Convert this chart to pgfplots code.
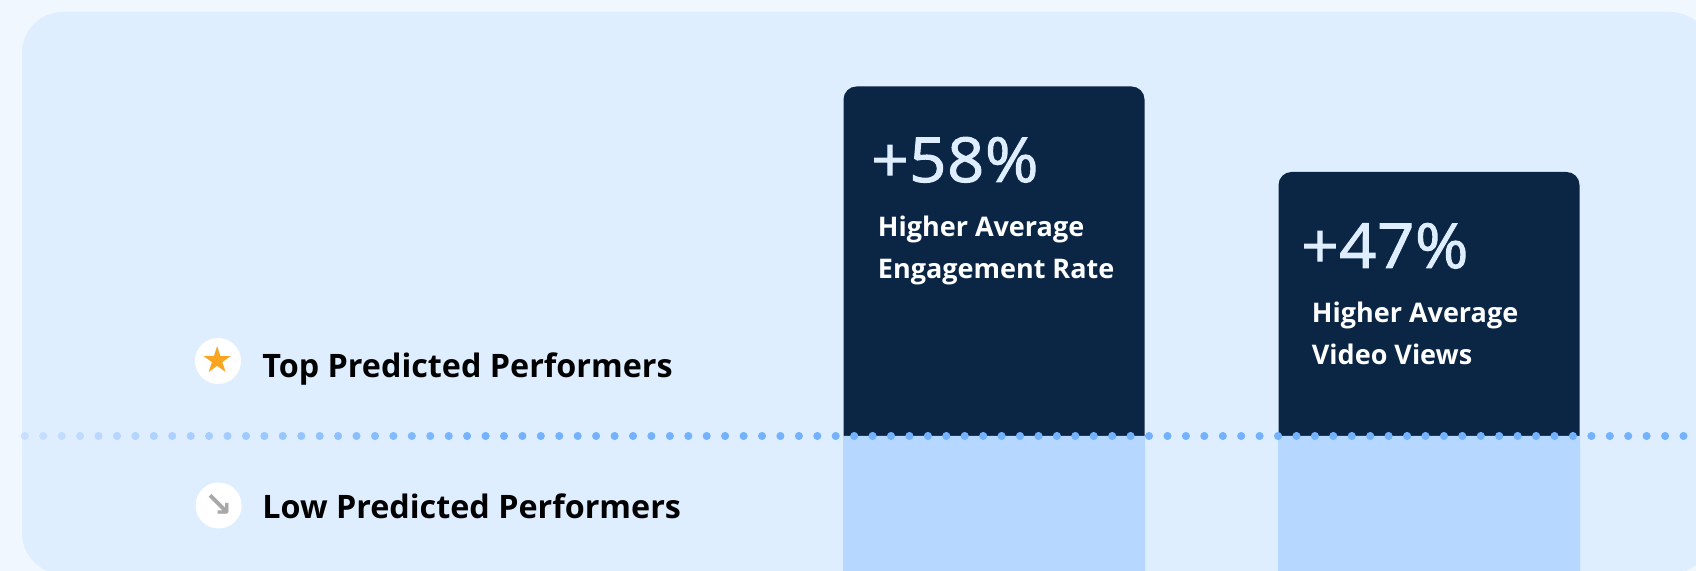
\documentclass[border=0pt]{standalone}
\usepackage{pgfplots}
\pgfplotsset{compat=1.18}
\usepackage{fontspec}
\setmainfont{Open Sans}
\newfontfamily\numf[FakeBold=1.6,FakeStretch=1.05,LetterSpace=1]{Open Sans}
\newfontfamily\sym{DejaVu Sans}
\definecolor{bg}{HTML}{F0F7FF}
\definecolor{panel}{HTML}{DEEEFF}
\definecolor{dark}{HTML}{0B2645}
\definecolor{lightbar}{HTML}{B6D7FF}
\definecolor{star}{HTML}{F9A51F}
\definecolor{arrowgray}{HTML}{A8A8A8}
\definecolor{dotlight}{HTML}{C8E0FF}
\definecolor{dotblue}{HTML}{72B2FF}
\begin{document}
\begin{tikzpicture}
\begin{axis}[
  hide axis, scale only axis, width=848pt, height=285.5pt,
  xmin=0, xmax=1696, ymin=0, ymax=571,
  axis background/.style={fill=bg},
  clip mode=global,
  colormap={dots}{color=(dotlight) color=(dotblue)},
]
\fill[panel, rounded corners=20.5pt] (axis cs:22,-3) rectangle (axis cs:1711,559);
% dark bars
\addplot[ybar, bar width=150.5pt, bar shift=0pt, fill=dark, draw=none, rounded corners=6.5pt]
  coordinates {(994,484.5) (1429,399)};
% light bars
\addplot[ybar, bar width=151pt, bar shift=0pt, fill=lightbar, draw=none]
  coordinates {(994,135) (1429,135)};
% dotted separator
\addplot[scatter, only marks, mark=*, mark size=1.8pt,
  scatter/use mapped color={draw=mapped color, fill=mapped color},
  point meta=x, point meta min=22, point meta max=460]
  table[row sep=\\, y=y] {x y\\
24.8 135\\43.2 135\\61.7 135\\80.1 135\\98.5 135\\117.0 135\\135.4 135\\153.8 135\\172.2 135\\190.7 135\\
209.1 135\\227.5 135\\246.0 135\\264.4 135\\282.8 135\\301.3 135\\319.7 135\\338.1 135\\356.5 135\\375.0 135\\
393.4 135\\411.8 135\\430.3 135\\448.7 135\\467.1 135\\485.6 135\\504.0 135\\522.4 135\\540.8 135\\559.3 135\\
577.7 135\\596.1 135\\614.6 135\\633.0 135\\651.4 135\\669.9 135\\688.3 135\\706.7 135\\725.1 135\\743.6 135\\
762.0 135\\780.4 135\\798.9 135\\817.3 135\\835.7 135\\854.2 135\\872.6 135\\891.0 135\\909.4 135\\927.9 135\\
946.3 135\\964.7 135\\983.2 135\\1001.6 135\\1020.0 135\\1038.5 135\\1056.9 135\\1075.3 135\\1093.7 135\\1112.2 135\\
1130.6 135\\1149.0 135\\1167.5 135\\1185.9 135\\1204.3 135\\1222.8 135\\1241.2 135\\1259.6 135\\1278.0 135\\1296.5 135\\
1314.9 135\\1333.3 135\\1351.8 135\\1370.2 135\\1388.6 135\\1407.1 135\\1425.5 135\\1443.9 135\\1462.3 135\\1480.8 135\\
1499.2 135\\1517.6 135\\1536.1 135\\1554.5 135\\1572.9 135\\1591.4 135\\1609.8 135\\1628.2 135\\1646.6 135\\1665.1 135\\1683.5 135\\
};
% legend-like rows
\fill[white] (axis cs:218,210) circle[radius=11.5pt];
\fill[white] (axis cs:218.6,65.5) circle[radius=11.5pt];
\node[text=star, anchor=center, font=\sym\fontsize{18}{18}\selectfont] at (axis cs:218,211.5) {★};
\node[text=arrowgray, anchor=center, font=\sym\bfseries\fontsize{17}{17}\selectfont] at (axis cs:218.6,65.5) {↘};
\node[anchor=base west, inner sep=0pt, text=black, font=\bfseries\fontsize{16.15}{16.15}\selectfont] at (axis cs:262,193.3) {Top Predicted Performers};
\node[anchor=base west, inner sep=0pt, text=black, font=\bfseries\fontsize{16.15}{16.15}\selectfont] at (axis cs:262,52) {Low Predicted Performers};
% bar 1
\node[anchor=base west, inner sep=0pt, text=panel, font=\numf\fontsize{31}{31}\selectfont] at (axis cs:871,389) {+58\%};
\node[anchor=base west, inner sep=0pt, text=white, font=\bfseries\fontsize{13.5}{13.5}\selectfont] at (axis cs:877.5,334.3) {Higher Average};
\node[anchor=base west, inner sep=0pt, text=white, font=\bfseries\fontsize{13.5}{13.5}\selectfont] at (axis cs:877.5,292) {Engagement Rate};
% bar 2
\node[anchor=base west, inner sep=0pt, text=panel, font=\numf\fontsize{31}{31}\selectfont] at (axis cs:1301,303) {+47\%};
\node[anchor=base west, inner sep=0pt, text=white, font=\bfseries\fontsize{13.5}{13.5}\selectfont] at (axis cs:1311.5,248.3) {Higher Average};
\node[anchor=base west, inner sep=0pt, text=white, font=\bfseries\fontsize{13.5}{13.5}\selectfont] at (axis cs:1311.5,206) {Video Views};
\end{axis}
\end{tikzpicture}
\end{document}
